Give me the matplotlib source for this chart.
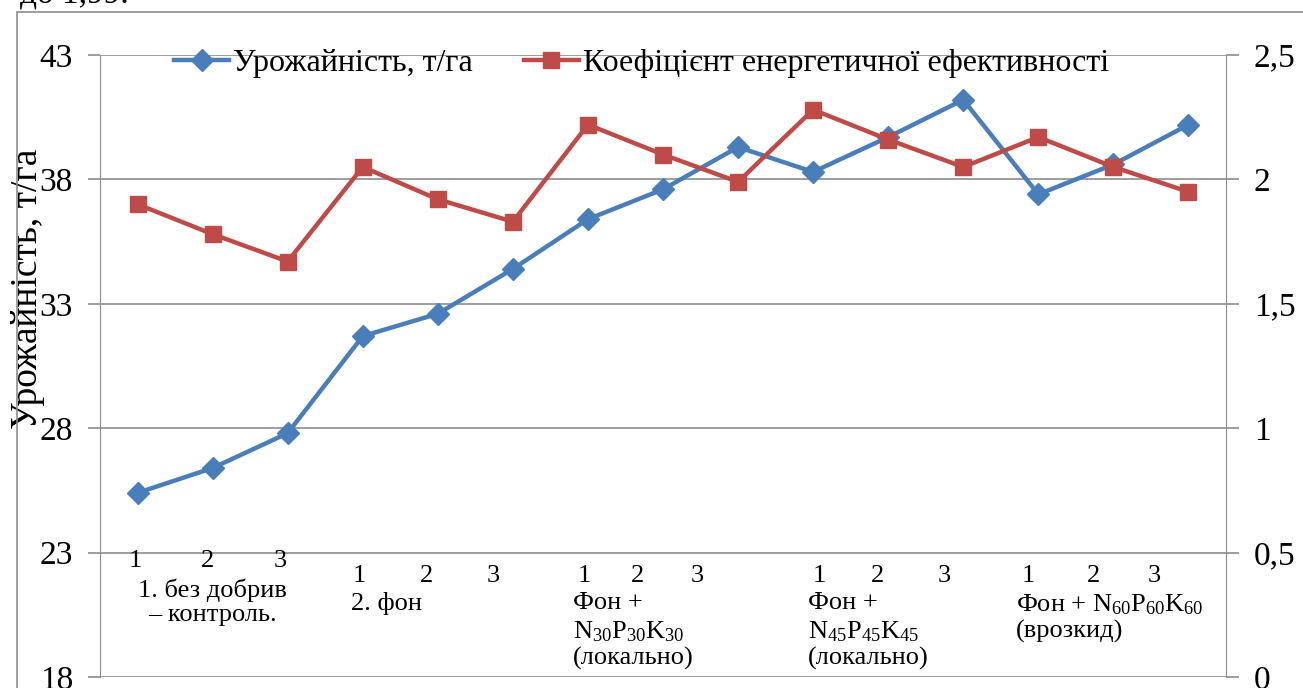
import matplotlib.pyplot as plt
from matplotlib.patches import Rectangle
from matplotlib.lines import Line2D

plt.rcParams['font.family'] = ['Liberation Serif', 'DejaVu Serif']
plt.rcParams['mathtext.fontset'] = 'custom'
plt.rcParams['mathtext.rm'] = 'Liberation Serif'
plt.rcParams['mathtext.it'] = 'Liberation Serif:italic'

# Дані
urozhai = [25.4, 26.4, 27.8, 31.7, 32.6, 34.4, 36.4, 37.6, 39.3, 38.3, 39.7, 41.2, 37.4, 38.6, 40.2]
koef = [1.90, 1.78, 1.67, 2.05, 1.92, 1.83, 2.22, 2.10, 1.99, 2.28, 2.16, 2.05, 2.17, 2.05, 1.95]
levels = ['1', '2', '3'] * 5
left_ticks = [18, 23, 28, 33, 38, 43]
right_ticks = [0, 0.5, 1, 1.5, 2, 2.5]
right_labels = ['0', '0,5', '1', '1,5', '2', '2,5']

blue = '#4A7EBB'
red = '#BE4B48'
grid_c = '#8C8C8C'

fig = plt.figure(figsize=(13.03, 6.88), dpi=100)
fig.patches.append(Rectangle((17 / 1303, -0.2), 1.2, 1.2 - 12 / 688,
                             transform=fig.transFigure, fill=False,
                             edgecolor=grid_c, lw=1.2))
fig.text(20 / 1303, 1 + 6 / 688, 'до 1,99.', fontsize=24, va='center', ha='left')

ax = fig.add_axes([100 / 1303, 1 - 677 / 688, 1126 / 1303, 622 / 688])
ax2 = ax.twinx()

x = list(range(len(urozhai)))
ax.plot(x, urozhai, color=blue, lw=3.2, marker='D', ms=11, zorder=3)
ax2.plot(x, koef, color=red, lw=3.2, marker='s', ms=12, zorder=3)

ax.set_xlim(-0.5, 14.5)
ax.set_ylim(18, 43)
ax2.set_ylim(0, 2.5)
ax.set_yticks(left_ticks)
ax.set_yticklabels([str(t) for t in left_ticks], fontsize=24)
ax2.set_yticks(right_ticks)
ax2.set_yticklabels(right_labels, fontsize=24)
ax.set_xticks([])
ax.grid(axis='y', color=grid_c, lw=1.2)
ax.set_axisbelow(True)
for a in (ax, ax2):
    for s in ('top', 'bottom'):
        a.spines[s].set_visible(False)
    a.spines['left'].set_color(grid_c)
    a.spines['right'].set_color(grid_c)
    a.tick_params(axis='y', color=grid_c, length=9, width=1.2, pad=11)
ax.spines['right'].set_visible(False)
ax2.spines['left'].set_visible(False)
ax.tick_params(axis='y', pad=10.5)
ax.set_ylabel('Урожайність, т/га', fontsize=27)
ax.yaxis.set_label_coords(-0.049, 0.624)

# підписи категорій
fs = 19
num_pos = [(-0.03, 23.1), (0.93, 23.1), (1.9, 23.1),
           (2.96, 22.5), (3.85, 22.5), (4.74, 22.5),
           (5.95, 22.5), (6.66, 22.5), (7.46, 22.5),
           (9.08, 22.5), (9.86, 22.5), (10.75, 22.5),
           (11.86, 22.5), (12.74, 22.5), (13.54, 22.5)]
for lab, (px, py) in zip(levels, num_pos):
    ax.text(px, py, lab, fontsize=fs, ha='center', va='top')
ax.text(1.0, 21.95, '1. без добрив', fontsize=fs, ha='center', va='top')
ax.text(1.0, 20.95, '– контроль.', fontsize=fs, ha='center', va='top')
ax.text(2.85, 21.4, '2. фон', fontsize=fs, ha='left', va='top')
ax.text(5.8, 21.4, 'Фон +', fontsize=fs, ha='left', va='top')
ax.text(5.8, 20.3, r'N$_{30}$P$_{30}$K$_{30}$', fontsize=fs, ha='left', va='top')
ax.text(5.8, 19.2, '(локально)', fontsize=fs, ha='left', va='top')
ax.text(8.93, 21.4, 'Фон +', fontsize=fs, ha='left', va='top')
ax.text(8.93, 20.3, r'N$_{45}$P$_{45}$K$_{45}$', fontsize=fs, ha='left', va='top')
ax.text(8.93, 19.2, '(локально)', fontsize=fs, ha='left', va='top')
ax.text(11.7, 21.4, r'Фон + N$_{60}$P$_{60}$K$_{60}$', fontsize=fs, ha='left', va='top')
ax.text(11.7, 20.3, '(врозкид)', fontsize=fs, ha='left', va='top')

handles = [Line2D([], [], color=blue, lw=3.2, marker='D', ms=11),
           Line2D([], [], color=red, lw=3.2, marker='s', ms=12)]
ax2.legend(handles, ['Урожайність, т/га', 'Коефіцієнт енергетичної ефективності'],
           loc='upper left', bbox_to_anchor=(0.054, 1.03), ncol=2, frameon=False,
           fontsize=23, handlelength=1.75, handletextpad=0.1, columnspacing=1.6,
           borderaxespad=0)

fig.savefig('out.png', dpi=100)
